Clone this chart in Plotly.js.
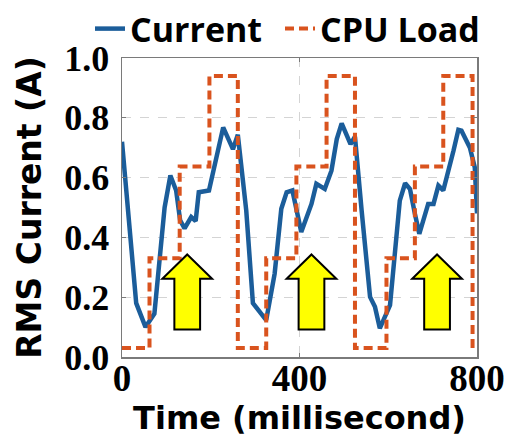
<!DOCTYPE html>
<html>
<head>
<meta charset="utf-8">
<script src="https://cdn.plot.ly/plotly-3.0.1.min.js"></script>
<style>
html, body { margin: 0; padding: 0; background: #fff; }
#chart { width: 508px; height: 444px; }
</style>
</head>
<body>
<div id="chart"></div>
<script>
// Current trace (time in ms, RMS current in A)
const currentTime = [0, 32, 53, 73, 96, 109, 122, 131, 141, 156, 166, 173, 196, 228, 250, 261, 280, 295, 325, 344, 359, 371, 384, 404, 427, 438, 457, 472, 484, 495, 515, 525, 540, 559, 570, 581, 604, 626, 638, 649, 660, 670, 690, 702, 713, 724, 747, 758, 765, 784, 795, 800];
const currentValue = [0.72, 0.18, 0.10, 0.145, 0.50, 0.607, 0.557, 0.457, 0.43, 0.468, 0.455, 0.551, 0.557, 0.768, 0.695, 0.743, 0.49, 0.18, 0.123, 0.279, 0.496, 0.551, 0.557, 0.418, 0.512, 0.579, 0.562, 0.623, 0.729, 0.781, 0.712, 0.737, 0.49, 0.201, 0.168, 0.096, 0.173, 0.523, 0.581, 0.562, 0.479, 0.412, 0.512, 0.512, 0.573, 0.557, 0.69, 0.76, 0.757, 0.70, 0.634, 0.48];

// CPU load steps (step starts)
const loadTime = [0, 62, 130, 197, 261, 325, 393, 461, 525, 596, 660, 724, 790, 800];
const loadValue = [0.03, 0.33, 0.637, 0.94, 0.03, 0.33, 0.637, 0.94, 0.03, 0.33, 0.637, 0.94, 0.03, 0.03];

// Arrow centres (ms)
const arrowTime = [147, 427, 710];

const xTicks = [0, 400, 800];
const xTickText = ['0', '400', '800'];
const yTicks = [0, 0.2, 0.4, 0.6, 0.8, 1.0];
const yTickText = ['0.0', '0.2', '0.4', '0.6', '0.8', '1.0'];

function arrowPath(cx) {
  const hw = 56, sw = 29, tip = 0.343, wing = 0.262, bot = 0.092;
  return 'M ' + cx + ' ' + tip +
    ' L ' + (cx + hw) + ' ' + wing +
    ' L ' + (cx + sw) + ' ' + wing +
    ' L ' + (cx + sw) + ' ' + bot +
    ' L ' + (cx - sw) + ' ' + bot +
    ' L ' + (cx - sw) + ' ' + wing +
    ' L ' + (cx - hw) + ' ' + wing + ' Z';
}

const traces = [
  {
    x: currentTime, y: currentValue, type: 'scatter', mode: 'lines', name: 'Current',
    line: { color: '#1b5d9a', width: 4.5 }, legend: 'legend'
  },
  {
    x: loadTime, y: loadValue, type: 'scatter', mode: 'lines', name: 'CPU Load',
    line: { color: '#d9531e', width: 4, dash: '9px,5px', shape: 'hv' }, legend: 'legend2'
  }
];

const frameColor = '#7a7a7a';
const gridColor = '#d4d4d4';
const legendFont = { family: 'Open Sans', size: 34, color: '#000', weight: 700 };

const layout = {
  width: 508, height: 444,
  margin: { l: 122, r: 31, t: 58, b: 87, autoexpand: false },
  paper_bgcolor: '#ffffff', plot_bgcolor: '#ffffff',
  showlegend: true,
  legend: {
    orientation: 'h', xref: 'container', yref: 'container',
    x: 90 / 508, y: 1.0, xanchor: 'left', yanchor: 'top',
    font: legendFont, bgcolor: 'rgba(0,0,0,0)', borderwidth: 0
  },
  legend2: {
    orientation: 'h', xref: 'container', yref: 'container',
    x: 280 / 508, y: 1.0, xanchor: 'left', yanchor: 'top',
    font: legendFont, bgcolor: 'rgba(0,0,0,0)', borderwidth: 0
  },
  xaxis: {
    range: [0, 800], tickmode: 'array', tickvals: xTicks, ticktext: xTickText,
    showline: true, mirror: 'ticks', linecolor: frameColor, linewidth: 1.5,
    ticks: 'inside', ticklen: 4, tickcolor: frameColor, tickwidth: 1,
    showgrid: true, gridcolor: gridColor, griddash: 'dash', gridwidth: 1,
    zeroline: false, ticklabelstandoff: -12,
    tickfont: { family: 'Liberation Serif', size: 37, color: '#000', weight: 700 },
    title: { text: 'Time (millisecond)', standoff: 0,
      font: { family: 'DejaVu Sans', size: 32, color: '#000', weight: 700 } }
  },
  yaxis: {
    range: [0, 1.0], tickmode: 'array', tickvals: yTicks, ticktext: yTickText,
    showline: true, mirror: 'ticks', linecolor: frameColor, linewidth: 1.5,
    ticks: 'inside', ticklen: 4, tickcolor: frameColor, tickwidth: 1,
    showgrid: true, gridcolor: gridColor, griddash: 'dash', gridwidth: 1,
    zeroline: false, ticklabelstandoff: 4,
    tickfont: { family: 'Liberation Serif', size: 36, color: '#000', weight: 700 },
    title: { text: 'RMS Current (A)', standoff: 12,
      font: { family: 'DejaVu Sans', size: 33, color: '#000', weight: 700 } }
  },
  shapes: arrowTime.map(function (cx) {
    return {
      type: 'path', xref: 'x', yref: 'y', path: arrowPath(cx),
      fillcolor: '#ffff00', line: { color: '#000000', width: 2 }, layer: 'above'
    };
  })
};

Plotly.newPlot('chart', traces, layout, { displayModeBar: false, staticPlot: true });
</script>
</body>
</html>
